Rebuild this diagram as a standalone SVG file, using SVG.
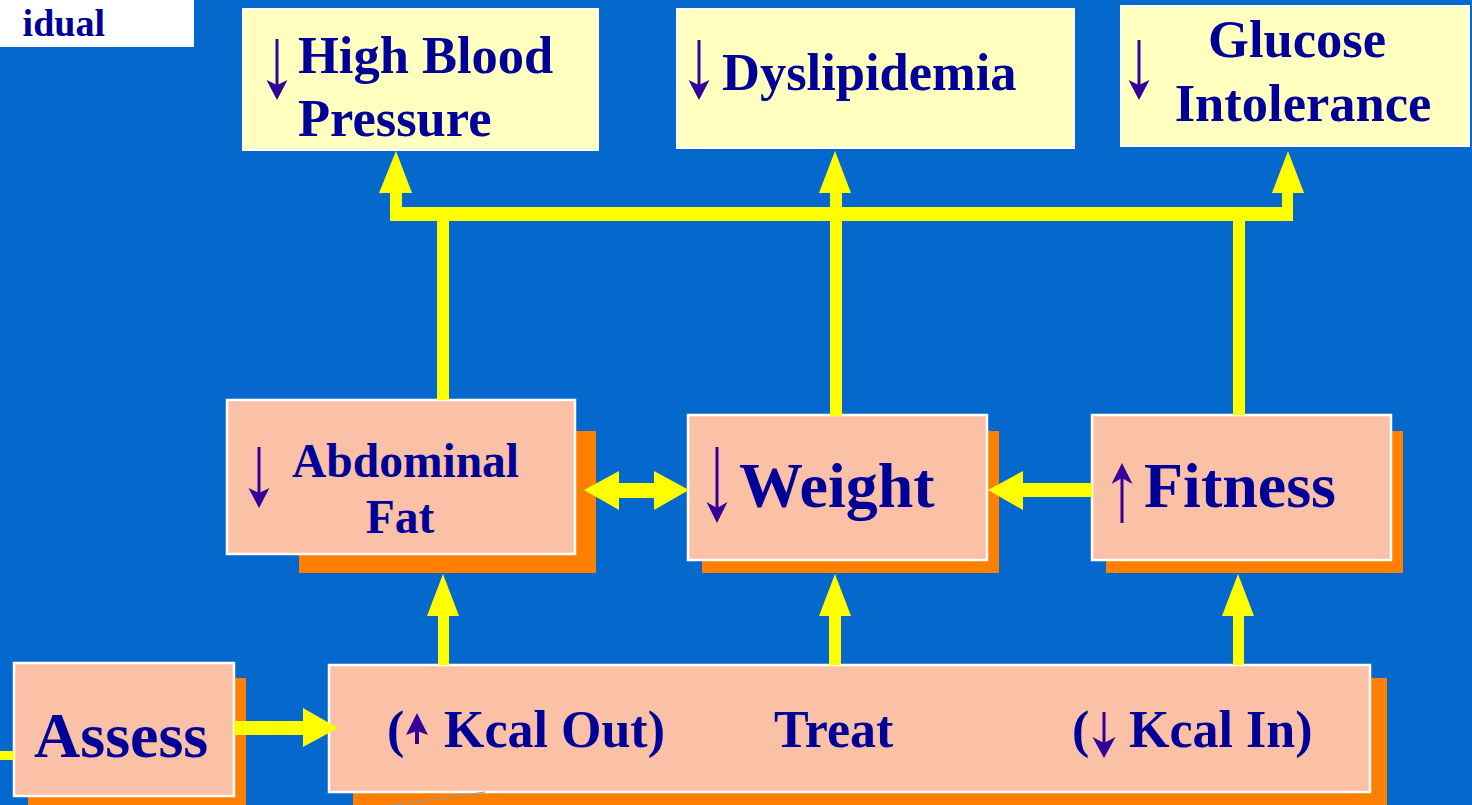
<svg xmlns="http://www.w3.org/2000/svg" width="1472" height="805" viewBox="0 0 1472 805">
<style>
.bg{fill:#0468CC}
.ybox{fill:#FFFFC0;stroke:#FFFFFF;stroke-width:2}
.sbox{fill:#FBC1A7;stroke:#FFFFFF;stroke-width:2.5}
.shadow{fill:#FF8000}
.t{font-family:"Liberation Serif","Times New Roman",serif;font-weight:bold;fill:#000099}
.sym line{stroke:#330099;stroke-width:3}
.sym polygon{fill:#330099}
.conn{fill:#FFFF00}
</style>
<rect class="bg" x="0" y="0" width="1472" height="805"/>
<g id="title">
<rect x="0" y="0" width="194" height="47" fill="#FFFFFF"/>
<text class="t" x="105" y="36" font-size="38" text-anchor="end">idual</text>
</g>
<g id="high-blood-pressure">
<rect class="ybox" x="243" y="9" width="355" height="141"/>
<g class="sym"><line x1="277" y1="39" x2="277" y2="92"/><polygon points="277,100 266.5,80 277,85 287.5,80"/></g>
<text class="t" x="298" y="73" font-size="52.5">High Blood</text>
<text class="t" x="298" y="136" font-size="52.5">Pressure</text>
</g>
<g id="dyslipidemia">
<rect class="ybox" x="677" y="9" width="397" height="139"/>
<g class="sym"><line x1="699" y1="40" x2="699" y2="92"/><polygon points="699,100 688.5,80 699,85 709.5,80"/></g>
<text class="t" x="722" y="90" font-size="52.5">Dyslipidemia</text>
</g>
<g id="glucose-intolerance">
<rect class="ybox" x="1121" y="6" width="348" height="140"/>
<g class="sym"><line x1="1139" y1="40" x2="1139" y2="92"/><polygon points="1139,100 1128.5,80 1139,85 1149.5,80"/></g>
<text class="t" x="1297" y="57" font-size="52.5" text-anchor="middle">Glucose</text>
<text class="t" x="1303" y="121" font-size="52.5" text-anchor="middle">Intolerance</text>
</g>
<g id="abdominal-fat">
<rect class="shadow" x="299" y="431" width="297" height="142"/>
<rect class="sbox" x="227" y="400" width="348" height="154"/>
<g class="sym"><line x1="259" y1="447" x2="259" y2="500"/><polygon points="259,508 248.5,488 259,493 269.5,488"/></g>
<text class="t" x="292" y="477" font-size="47.5">Abdominal</text>
<text class="t" x="400" y="533" font-size="47.5" text-anchor="middle">Fat</text>
</g>
<g id="weight">
<rect class="shadow" x="702" y="431" width="297" height="142"/>
<rect class="sbox" x="688" y="415" width="299" height="145"/>
<g class="sym"><line x1="717" y1="447" x2="717" y2="515"/><polygon points="717,523 706.5,502 717,508 727.5,502"/></g>
<text class="t" x="739" y="507" font-size="64">Weight</text>
</g>
<g id="fitness">
<rect class="shadow" x="1106" y="431" width="297" height="142"/>
<rect class="sbox" x="1092" y="415" width="299" height="145"/>
<g class="sym"><line x1="1122" y1="471" x2="1122" y2="523"/><polygon points="1122,463 1111.5,484 1122,478 1132.5,484"/></g>
<text class="t" x="1144" y="507" font-size="64">Fitness</text>
</g>
<g id="assess">
<rect class="shadow" x="28" y="678" width="218" height="130"/>
<rect class="sbox" x="14" y="663" width="220" height="133"/>
<text class="t" x="34" y="757" font-size="64">Assess</text>
</g>
<g id="treat">
<rect class="shadow" x="353" y="678" width="1034" height="130"/>
<rect class="sbox" x="329" y="665" width="1041" height="127"/>
<line x1="387" y1="806" x2="485" y2="792" stroke="#8A9AB0" stroke-width="1"/>
<text class="t" x="387" y="747" font-size="52">(</text>
<g class="sym"><line x1="417" y1="722" x2="417" y2="744" style="stroke-width:4"/><polygon points="417,713 406,735 417,731 428,735"/></g>
<text class="t" x="444" y="747" font-size="52">Kcal Out)</text>
<text class="t" x="774" y="747" font-size="52">Treat</text>
<text class="t" x="1072" y="747" font-size="52">(</text>
<g class="sym"><line x1="1104" y1="712" x2="1104" y2="750"/><polygon points="1104,758 1092.5,737 1104,743 1115.5,737"/></g>
<text class="t" x="1129" y="747" font-size="52">Kcal In)</text>
</g>
<g id="connectors" class="conn">
<rect x="390" y="207" width="903" height="14"/>
<rect x="390" y="192" width="12" height="20"/>
<polygon points="379,193 396,151 412,193"/>
<rect x="830" y="192" width="12" height="224"/>
<polygon points="819,193 835,151 851,193"/>
<rect x="1282" y="192" width="11" height="20"/>
<polygon points="1272,193 1288,151 1304,193"/>
<rect x="437" y="215" width="12" height="185"/>
<rect x="1233" y="215" width="12" height="200"/>
<rect x="438" y="614" width="11" height="51"/>
<polygon points="427,616 443,574 459,616"/>
<rect x="829" y="614" width="12" height="51"/>
<polygon points="819,616 835,574 851,616"/>
<rect x="1233" y="614" width="11" height="51"/>
<polygon points="1222,616 1238,574 1254,616"/>
<polygon points="584,490 619,471 619,483 654,483 654,471 689,490 654,510 654,498 619,498 619,510"/>
<polygon points="988,490 1023,471 1023,483 1092,483 1092,497 1023,497 1023,510"/>
<polygon points="234,721 303,721 303,708 338,728 303,747 303,735 234,735"/>
<rect x="0" y="751" width="14" height="9"/>
</g>
</svg>
